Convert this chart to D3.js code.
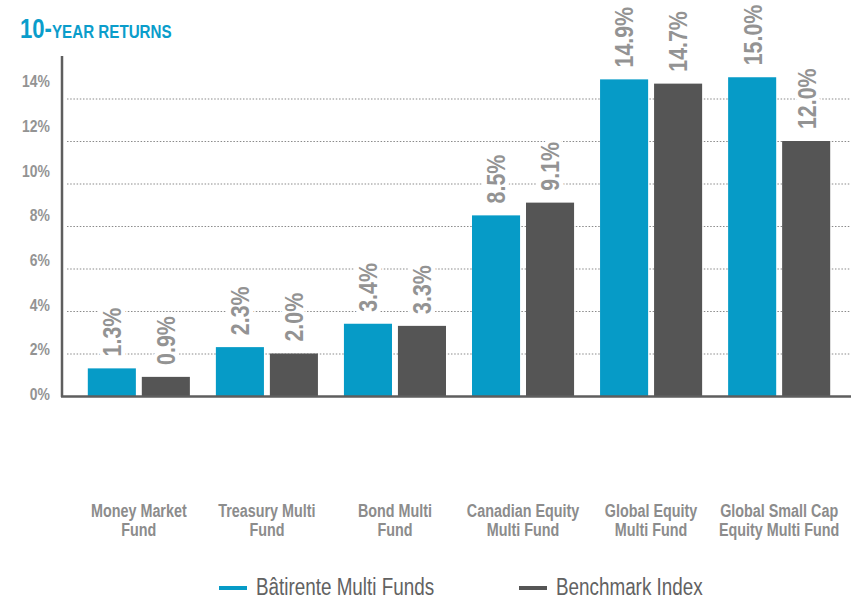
<!DOCTYPE html>
<html>
<head>
<meta charset="utf-8">
<script src="https://cdn.jsdelivr.net/npm/d3@7"></script>
<style>
  html, body { margin: 0; padding: 0; background: #fff; }
  #chart { width: 857px; height: 598px; }
  text { font-family: "Liberation Sans", Arial, sans-serif; }
</style>
</head>
<body>
<div id="chart"></div>
<script>
//Datos
const funds = [
    ['Money Market', 'Fund'],
    ['Treasury Multi', 'Fund'],
    ['Bond Multi', 'Fund'],
    ['Canadian Equity', 'Multi Fund'],
    ['Global Equity', 'Multi Fund'],
    ['Global Small Cap', 'Equity Multi Fund']
];
const series = ['Bâtirente Multi Funds', 'Benchmark Index'];
const batirente = [1.3, 2.3, 3.4, 8.5, 14.9, 15.0];
const benchmark = [0.9, 2.0, 3.3, 9.1, 14.7, 12.0];
const yTicks = [0, 2, 4, 6, 8, 10, 12, 14];

//Colores fijos
const COLOR_BLUE = '#069bc7',
    COLOR_GREY = '#555555',
    COLOR_AXIS = '#5e5e5e',
    COLOR_LABEL = '#939393';

//No hay Arial Narrow: se estrecha la Liberation Sans
const NARROW = ' scale(0.82,1)';

let width = 857, height = 598;

let svg = d3.select('#chart')
    .append('svg')
    .attr('width', width)
    .attr('height', height);

let data = funds.map(function(f, i) {
    return { key: f.join(' '), lines: f, values: [batirente[i], benchmark[i]] };
});

//Escalas
let x0 = d3.scaleBand()
    .domain(data.map(function(d) { return d.key; }))
    .range([75, 843])
    .paddingInner(0.203)
    .paddingOuter(0.1);

let x1 = d3.scaleBand()
    .domain([0, 1])
    .range([0, x0.bandwidth()])
    .paddingInner(0.11);

let y = d3.scaleLinear()
    .domain([0, 16])
    .range([396, 56]);

//las etiquetas del eje van algo desplazadas respecto a las líneas
let yLabel = d3.scaleLinear()
    .domain([0, 14])
    .range([394, 81]);

//Título
let title = svg.append('text')
    .attr('transform', 'translate(20,38)' + NARROW)
    .attr('fill', '#0a9dcb')
    .attr('font-weight', 'bold');
title.append('tspan').attr('font-size', 27).text('10-');
title.append('tspan').attr('font-size', 18.5).text('YEAR RETURNS');

//Rejilla
svg.append('g')
    .selectAll('line')
    .data(yTicks.filter(function(d) { return d > 0; }))
    .enter()
    .append('line')
    .attr('x1', 67)
    .attr('x2', 851)
    .attr('y1', function(d) { return y(d) + 0.5; })
    .attr('y2', function(d) { return y(d) + 0.5; })
    .attr('stroke', '#8a8a8a')
    .attr('stroke-width', 1.2)
    .attr('stroke-dasharray', '1.5,1.7');

//Etiquetas eje Y
svg.append('g')
    .selectAll('text')
    .data(yTicks)
    .enter()
    .append('text')
    .attr('transform', function(d) { return 'translate(50,' + yLabel(d) + ')' + NARROW; })
    .attr('dy', '0.36em')
    .attr('text-anchor', 'end')
    .attr('font-size', 17)
    .attr('font-weight', 'bold')
    .attr('fill', COLOR_LABEL)
    .text(function(d) { return d + '%'; });

//Barras
let groups = svg.append('g')
    .selectAll('g')
    .data(data)
    .enter()
    .append('g')
    .attr('transform', function(d) { return 'translate(' + x0(d.key) + ',0)'; });

groups.selectAll('rect')
    .data(function(d) { return d.values; })
    .enter()
    .append('rect')
    .attr('x', function(d, i) { return x1(i); })
    .attr('width', x1.bandwidth())
    .attr('y', function(d) { return y(d); })
    .attr('height', function(d) { return y(0) - y(d); })
    .attr('fill', function(d, i) { return i == 0 ? COLOR_BLUE : COLOR_GREY; });

//Valores rotados
groups.selectAll('text.value')
    .data(function(d) { return d.values; })
    .enter()
    .append('text')
    .attr('class', 'value')
    .attr('transform', function(d, i) {
        return 'translate(' + (x1(i) + x1.bandwidth() / 2) + ',' + (y(d) - 12) + ') rotate(-90)' + NARROW;
    })
    .attr('dy', '0.36em')
    .attr('font-size', 26)
    .attr('font-weight', 'bold')
    .attr('fill', COLOR_LABEL)
    .attr('stroke', '#fff')
    .attr('stroke-width', 9)
    .attr('paint-order', 'stroke')
    .attr('stroke-linejoin', 'round')
    .text(function(d) { return d.toFixed(1) + '%'; });

//Ejes
svg.append('line')
    .attr('x1', 62).attr('x2', 62)
    .attr('y1', y(16)).attr('y2', y(0) + 1)
    .attr('stroke', COLOR_AXIS)
    .attr('stroke-width', 2.5);

svg.append('line')
    .attr('x1', 61).attr('x2', 851)
    .attr('y1', y(0) + 0.5).attr('y2', y(0) + 0.5)
    .attr('stroke', COLOR_AXIS)
    .attr('stroke-width', 2.5);

//Etiquetas eje X
let xLabels = svg.append('g')
    .selectAll('text')
    .data(data)
    .enter()
    .append('text')
    .attr('transform', function(d) { return 'translate(' + (x0(d.key) + x0.bandwidth() / 2) + ',0)' + NARROW; })
    .attr('text-anchor', 'middle')
    .attr('font-size', 17.5)
    .attr('font-weight', 'bold')
    .attr('fill', '#8c8c8c');

xLabels.selectAll('tspan')
    .data(function(d) { return d.lines; })
    .enter()
    .append('tspan')
    .attr('x', 0)
    .attr('y', function(d, i) { return 517 + i * 19; })
    .text(function(d) { return d; });

//Leyenda
let legendPos = [219, 519];
let legend = svg.append('g')
    .selectAll('g')
    .data(series)
    .enter()
    .append('g')
    .attr('transform', function(d, i) { return 'translate(' + legendPos[i] + ',0)'; });

legend.append('line')
    .attr('x1', 0).attr('x2', 28)
    .attr('y1', 588).attr('y2', 588)
    .attr('stroke', function(d, i) { return i == 0 ? COLOR_BLUE : COLOR_GREY; })
    .attr('stroke-width', 4);

legend.append('text')
    .attr('transform', 'translate(37,595)' + NARROW)
    .attr('font-size', 23)
    .attr('fill', '#626262')
    .text(function(d) { return d; });
</script>
</body>
</html>
